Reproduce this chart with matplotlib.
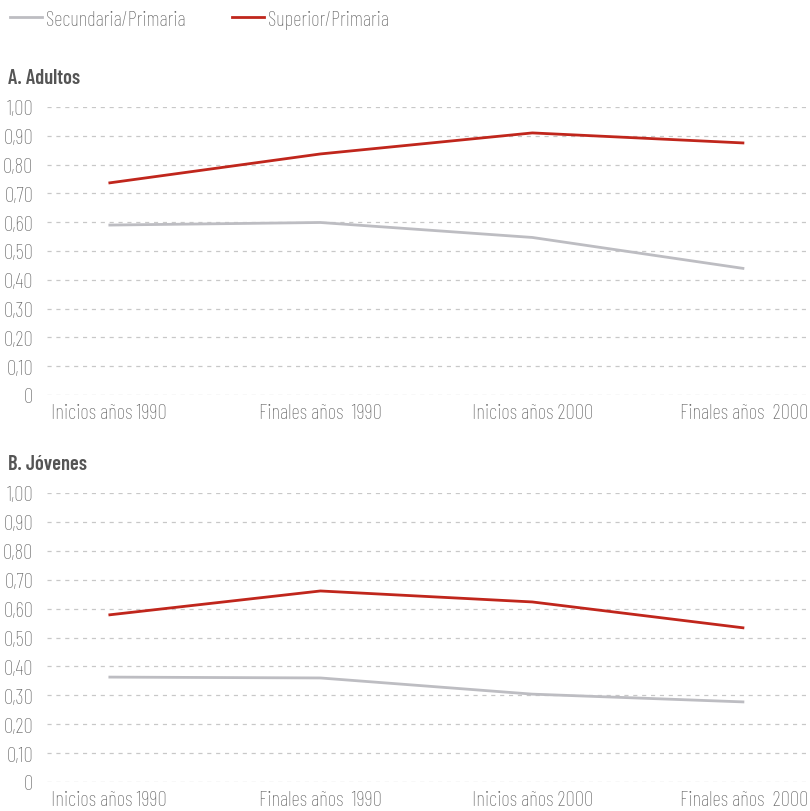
import matplotlib
matplotlib.use("Agg")
import matplotlib.pyplot as plt
from matplotlib.lines import Line2D
from matplotlib import font_manager

names = {f.name for f in font_manager.fontManager.ttflist}
candidates = ["Barlow Condensed", "Barlow Semi Condensed", "Fira Sans Extra Condensed",
              "Roboto Condensed", "Fira Sans Condensed", "PT Sans Narrow",
              "Liberation Sans Narrow", "Liberation Sans"]
FONT = next((c for c in candidates if c in names), "DejaVu Sans")
plt.rcParams['font.family'] = [FONT, 'DejaVu Sans']

categories = ["Inicios años 1990", "Finales años  1990", "Inicios años 2000", "Finales años  2000"]
adultos_sec = [0.590, 0.599, 0.547, 0.439]
adultos_sup = [0.736, 0.837, 0.910, 0.875]
jovenes_sec = [0.363, 0.360, 0.304, 0.277]
jovenes_sup = [0.578, 0.661, 0.623, 0.533]
yticks = [0, 0.1, 0.2, 0.3, 0.4, 0.5, 0.6, 0.7, 0.8, 0.9, 1.0]
ytick_labels = ["0", "0,10", "0,20", "0,30", "0,40", "0,50", "0,60", "0,70", "0,80", "0,90", "1,00"]
panel_titles = ["A. Adultos", "B. Jóvenes"]
series_names = ["Secundaria/Primaria", "Superior/Primaria"]

GRAY = "#bdbdc2"
RED = "#c0261c"
TXT = "#686868"

W, H = 810, 812
fig = plt.figure(figsize=(W / 100, H / 100), dpi=100)
renderer = fig.canvas.get_renderer()

def fit_size(text, target_px, weight, base=14.0):
    t = fig.text(0, 0, text, fontsize=base, fontweight=weight)
    w = t.get_window_extent(renderer).width
    t.remove()
    return base * target_px / w

TICK_FS = min(fit_size("Inicios años 1990", 116, 'light'), 15)
TITLE_FS = min(fit_size("A. Adultos", 72, 'semibold'), 15)
LEG_FS = min(fit_size("Secundaria/Primaria", 140, 'light'), 15)

def ax_rect(top_px, bot_px, left_px=47, right_px=810):
    return [left_px / W, 1 - bot_px / H, (right_px - left_px) / W, (bot_px - top_px) / H]

panels = [
    (ax_rect(108, 396), adultos_sec, adultos_sup, panel_titles[0], 78),
    (ax_rect(494, 783), jovenes_sec, jovenes_sup, panel_titles[1], 465),
]

x = list(range(len(categories)))
for rect, sec, sup, title, ty in panels:
    ax = fig.add_axes(rect)
    ax.plot(x, sec, color=GRAY, lw=2.0, solid_capstyle='butt', zorder=3)
    ax.plot(x, sup, color=RED, lw=2.0, solid_capstyle='butt', zorder=4)
    ax.set_xlim(-0.29, 3.31)
    ax.set_ylim(0, 1.0)
    ax.set_yticks(yticks)
    ax.set_yticklabels(ytick_labels)
    ax.set_xticks(x)
    ax.set_xticklabels(categories)
    for s in ax.spines.values():
        s.set_visible(False)
    ax.tick_params(axis='both', length=0, colors=TXT, labelsize=TICK_FS)
    ax.tick_params(axis='y', pad=10)
    ax.tick_params(axis='x', pad=6)
    ax.yaxis.grid(True, color="#c8c8c8", linestyle=(0, (3.3, 3.8)), linewidth=0.9)
    ax.set_axisbelow(True)
    for lbl in ax.get_yticklabels() + ax.get_xticklabels():
        lbl.set_fontweight('light')
    fig.text(8 / W, 1 - ty / H, title, fontsize=TITLE_FS, fontweight='semibold', color="#555555",
             va='center', ha='left')

# legend
fpx = LEG_FS * 100 / 72
handles = [Line2D([], [], color=GRAY, lw=2.0), Line2D([], [], color=RED, lw=2.0)]
leg = fig.legend(handles, series_names, loc='center left', bbox_to_anchor=(10 / W, 1 - 20 / H),
                 ncol=2, frameon=False, fontsize=LEG_FS, handlelength=32 / fpx,
                 handletextpad=4 / fpx, columnspacing=46 / fpx, borderaxespad=0, borderpad=0,
                 prop={'weight': 'light', 'size': LEG_FS})
for t in leg.get_texts():
    t.set_color(TXT)

fig.savefig("out.png", dpi=100)
